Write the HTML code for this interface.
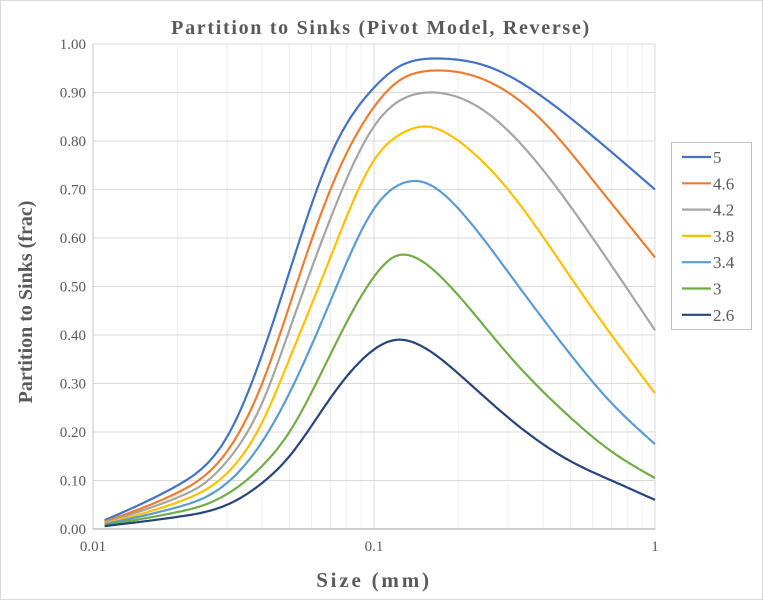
<!DOCTYPE html>
<html><head><meta charset="utf-8"><style>
html,body{margin:0;padding:0;background:#fff}
svg{display:block;font-family:"Liberation Serif",serif}
</style></head><body>
<svg id="s" width="763" height="600" xmlns="http://www.w3.org/2000/svg">
<rect x="0.5" y="0.5" width="762" height="599" fill="#fff" stroke="#d9d9d9"/>
<g id="grid"></g>
<g id="curves" fill="none" stroke-width="2.2" stroke-linejoin="round"></g>
<text x="381" y="34" text-anchor="middle" font-size="20" font-weight="bold" fill="#595959" letter-spacing="1.7">Partition to Sinks (Pivot Model, Reverse)</text>
<text x="374" y="587" text-anchor="middle" font-size="21" font-weight="bold" fill="#595959" letter-spacing="2.8">Size (mm)</text>
<text transform="translate(32,302) rotate(-90)" text-anchor="middle" font-size="20" font-weight="bold" fill="#595959">Partition to Sinks (frac)</text>
<g id="lab" font-size="15" fill="#595959"></g>
<rect x="671.5" y="142.5" width="80" height="187" fill="#fff" stroke="#bfbfbf"/>
<g id="leg" font-size="17" fill="#595959"></g>
</svg>
<script>
var X0=93,DEC=281,Y0=529,H=485,NS="http://www.w3.org/2000/svg";
function px(x){return X0+DEC*Math.log10(x/0.01);}
function py(y){return Y0-H*y;}
function el(t,a,p,txt){var e=document.createElementNS(NS,t);for(var k in a)e.setAttribute(k,a[k]);if(txt!=null)e.textContent=txt;p.appendChild(e);return e;}
var g=document.getElementById('grid'),lab=document.getElementById('lab');
for(var d=0;d<2;d++)for(var m=2;m<=9;m++){var x=px(0.01*Math.pow(10,d)*m);el('line',{x1:x,x2:x,y1:44,y2:529,stroke:'#f0f0f0','stroke-width':1},g);}
for(var i=1;i<=10;i++){var y=py(i/10);el('line',{x1:93,x2:655,y1:y,y2:y,stroke:'#d9d9d9','stroke-width':1},g);}
[0.1,1].forEach(function(v){var x=px(v);el('line',{x1:x,x2:x,y1:44,y2:529,stroke:'#d9d9d9','stroke-width':1},g);});
el('line',{x1:93,x2:93,y1:44,y2:529,stroke:'#d9d9d9','stroke-width':1.5},g);
el('line',{x1:93,x2:655,y1:529,y2:529,stroke:'#bfbfbf','stroke-width':1.5},g);
for(var i=0;i<=10;i++)el('text',{x:86,y:py(i/10)+5,'text-anchor':'end'},lab,(i/10).toFixed(2));
[[0.01,'0.01'],[0.1,'0.1'],[1,'1']].forEach(function(a){el('text',{x:px(a[0]),y:551,'text-anchor':'middle'},lab,a[1]);});
var S=[
['5','#4472c4',[[.011,.018],[.02,.09],[.025,.13],[.03,.19],[.04,.36],[.05,.53],[.07,.77],[.1,.91],[.12,.95],[.17,.97],[.25,.955],[.4,.89],[.6,.81],[1,.70]]],
['4.6','#ed7d31',[[.011,.015],[.02,.075],[.025,.11],[.03,.16],[.04,.30],[.05,.46],[.07,.70],[.1,.87],[.12,.92],[.16,.945],[.25,.925],[.4,.84],[.6,.72],[1,.56]]],
['4.2','#a5a5a5',[[.011,.013],[.02,.065],[.025,.095],[.03,.14],[.04,.26],[.05,.41],[.07,.64],[.1,.83],[.13,.89],[.155,.90],[.25,.86],[.4,.74],[.6,.60],[1,.41]]],
['3.8','#ffc000',[[.011,.011],[.02,.055],[.025,.08],[.03,.115],[.04,.22],[.05,.35],[.07,.56],[.1,.76],[.13,.82],[.15,.83],[.2,.80],[.3,.70],[.5,.52],[.7,.40],[1,.28]]],
['3.4','#5b9bd5',[[.011,.01],[.02,.045],[.025,.065],[.03,.095],[.04,.18],[.05,.28],[.07,.47],[.1,.66],[.13,.715],[.15,.715],[.2,.66],[.3,.53],[.5,.36],[.7,.26],[1,.175]]],
['3','#70ad47',[[.011,.008],[.02,.035],[.025,.05],[.03,.072],[.04,.13],[.05,.20],[.07,.36],[.1,.52],[.12,.563],[.14,.56],[.18,.51],[.3,.36],[.5,.23],[.7,.16],[1,.105]]],
['2.6','#264478',[[.011,.006],[.02,.025],[.025,.035],[.03,.05],[.04,.095],[.05,.15],[.07,.27],[.1,.37],[.12,.39],[.15,.375],[.2,.32],[.3,.23],[.5,.14],[.7,.10],[1,.06]]]];
function spline(xs,ys){var n=xs.length,h=[],al=[],l=[1],mu=[0],z=[0],c=new Array(n).fill(0),b=[],d=[];
 for(var i=0;i<n-1;i++)h[i]=xs[i+1]-xs[i];
 for(var i=1;i<n-1;i++)al[i]=3/h[i]*(ys[i+1]-ys[i])-3/h[i-1]*(ys[i]-ys[i-1]);
 for(var i=1;i<n-1;i++){l[i]=2*(xs[i+1]-xs[i-1])-h[i-1]*mu[i-1];mu[i]=h[i]/l[i];z[i]=(al[i]-h[i-1]*z[i-1])/l[i];}
 l[n-1]=1;z[n-1]=0;c[n-1]=0;
 for(var j=n-2;j>=0;j--){c[j]=z[j]-mu[j]*c[j+1];b[j]=(ys[j+1]-ys[j])/h[j]-h[j]*(c[j+1]+2*c[j])/3;d[j]=(c[j+1]-c[j])/(3*h[j]);}
 return function(x){var j=0;while(j<n-2&&x>xs[j+1])j++;var t=x-xs[j];return ys[j]+b[j]*t+c[j]*t*t+d[j]*t*t*t;};}
var cv=document.getElementById('curves'),lg=document.getElementById('leg');
S.forEach(function(s,k){
 var xs=s[2].map(function(p){return px(p[0]);}),ys=s[2].map(function(p){return py(p[1]);});
 var f=spline(xs,ys),d='';
 for(var x=xs[0];x<=655;x+=2){d+=(d?' L':'M')+x.toFixed(1)+','+f(x).toFixed(1);}
 d+=' L655,'+f(655).toFixed(1);
 el('path',{d:d,stroke:s[1]},cv);
 var y=157+k*26.3;
 el('line',{x1:682,x2:711,y1:y,y2:y,stroke:s[1],'stroke-width':2.2},lg);
 el('text',{x:713,y:y+6},lg,s[0]);
});
</script>
</body></html>
